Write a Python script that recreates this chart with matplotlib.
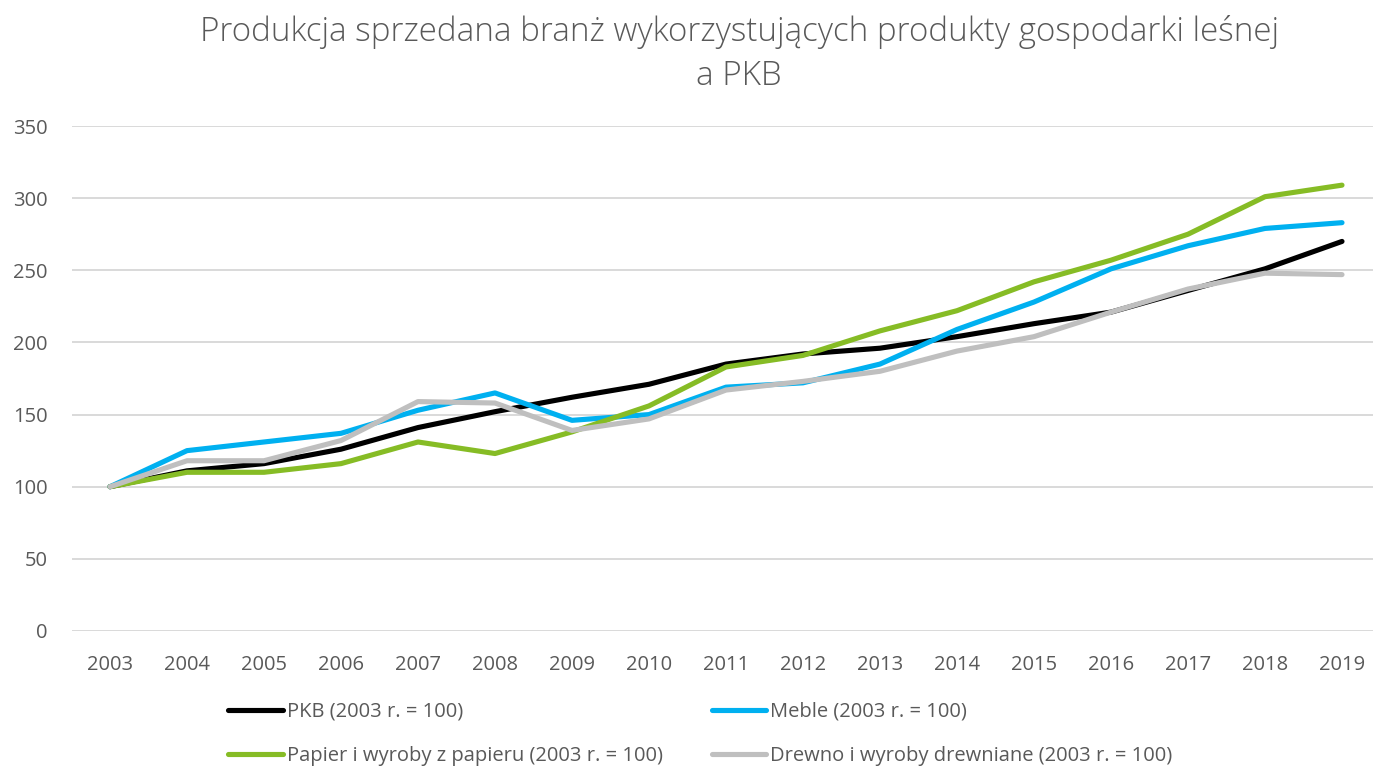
import matplotlib.pyplot as plt
import numpy as np

plt.rcParams['font.family'] = ['Open Sans', 'DejaVu Sans']

years = ['2003', '2004', '2005', '2006', '2007', '2008', '2009', '2010', '2011',
         '2012', '2013', '2014', '2015', '2016', '2017', '2018', '2019']

pkb = [100, 111, 116, 126, 141, 152, 162, 171, 185, 192, 196, 204, 213, 221, 236, 251, 270]
meble = [100, 125, 131, 137, 153, 165, 146, 150, 169, 172, 185, 209, 228, 251, 267, 279, 283]
papier = [100, 110, 110, 116, 131, 123, 138, 156, 183, 191, 208, 222, 242, 257, 275, 301, 309]
drewno = [100, 118, 118, 132, 159, 158, 139, 147, 167, 173, 180, 194, 204, 221, 237, 248, 247]

labels = ['PKB (2003 r. = 100)', 'Meble (2003 r. = 100)',
          'Papier i wyroby z papieru (2003 r. = 100)',
          'Drewno i wyroby drewniane (2003 r. = 100)']
colors = ['#000000', '#00B0F0', '#86BC25', '#BFBFBF']
txtcol = '#595959'

W, H = 1373, 766
fig = plt.figure(figsize=(W / 100, H / 100), dpi=100)
ax = fig.add_axes([71.5 / W, 1 - 631 / H, (1380.5 - 71.5) / W, 505 / H])

x = np.arange(len(years))
lines = []
for vals, c, lab in zip([pkb, meble, papier, drewno], colors, labels):
    ln, = ax.plot(x, vals, color=c, lw=3.7, label=lab, solid_capstyle='round',
                  solid_joinstyle='round', zorder=3)
    lines.append(ln)

ax.set_xlim(-0.5, len(years) - 0.5)
ax.set_ylim(0, 350)
ax.set_yticks(range(0, 351, 50))
ax.set_xticks(x)
ax.set_xticklabels(years)
ax.grid(axis='y', color='#D9D9D9', lw=1.4)
ax.set_axisbelow(True)
for s in ax.spines.values():
    s.set_visible(False)
ax.tick_params(length=0, labelsize=14.5, labelcolor=txtcol)
ax.tick_params(axis='y', pad=17)
ax.tick_params(axis='x', pad=17)

fig.text(739 / W, 1 - 54 / H, 'Produkcja sprzedana branż wykorzystujących produkty gospodarki leśnej\na PKB',
         ha='center', va='center', fontsize=23.9, color=txtcol, linespacing=1.42,
         fontweight='light')

order = [0, 2, 1, 3]
leg = fig.legend([lines[i] for i in order], [labels[i] for i in order], ncol=2,
                 loc='center left', bbox_to_anchor=(210 / W, 1 - 734 / H), frameon=False,
                 fontsize=14.5, handlelength=2.7, handletextpad=0.2, columnspacing=2.45,
                 labelspacing=1.2, labelcolor=txtcol)

fig.savefig('out.png', dpi=100)
